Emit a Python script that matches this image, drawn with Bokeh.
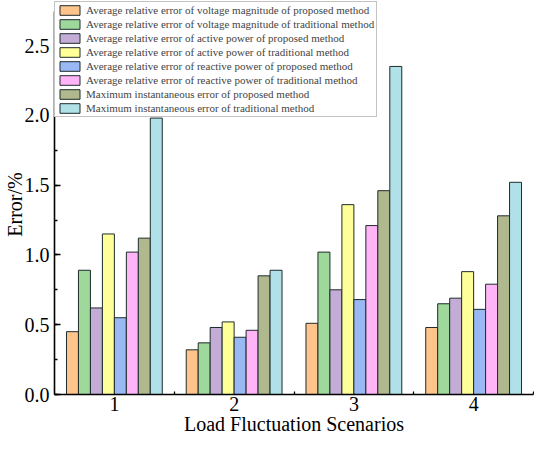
import math
from bokeh.plotting import figure
from bokeh.models import (ColumnDataSource, FixedTicker, SingleIntervalTicker, Range1d, Legend,
                          LegendItem, CustomJSTickFormatter, Label, LinearAxis)
from bokeh.transform import dodge
from bokeh.embed import file_html
from bokeh.resources import INLINE

scenarios = [1, 2, 3, 4]
vm_proposed = [0.45, 0.32, 0.51, 0.48]
vm_traditional = [0.89, 0.37, 1.02, 0.65]
p_proposed = [0.62, 0.48, 0.75, 0.69]
p_traditional = [1.15, 0.52, 1.36, 0.88]
q_proposed = [0.55, 0.41, 0.68, 0.61]
q_traditional = [1.02, 0.46, 1.21, 0.79]
max_proposed = [1.12, 0.85, 1.46, 1.28]
max_traditional = [1.98, 0.89, 2.35, 1.52]

labels = [
    "Average relative error of voltage magnitude of proposed method",
    "Average relative error of voltage magnitude of traditional method",
    "Average relative error of active power of proposed method",
    "Average relative error of active power of traditional method",
    "Average relative error of reactive power of proposed method",
    "Average relative error of reactive power of traditional method",
    "Maximum instantaneous error of proposed method",
    "Maximum instantaneous error of traditional method",
]
x_title = "Load Fluctuation Scenarios"
y_title = "Error/%"
colors = ["#FFC48C", "#9ED89A", "#C3ADD6", "#FFFF99", "#99B8F4", "#FFB4F8", "#B0B88E", "#B0E0E8"]
keys = ["vm_p", "vm_t", "p_p", "p_t", "q_p", "q_t", "m_p", "m_t"]
series = [vm_proposed, vm_traditional, p_proposed, p_traditional,
          q_proposed, q_traditional, max_proposed, max_traditional]

data = {"x": scenarios}
for k, s in zip(keys, series):
    data[k] = s
source = ColumnDataSource(data)

FONT = "Liberation Serif"
W, H = 534, 434
AX_LEFT_PX, AX_RIGHT_PX, AX_ZERO_PX = 54, 533, 394
PX_PER_Y = 139.6
PX_PER_X = (AX_RIGHT_PX - AX_LEFT_PX) / 4.0
x_start = 0.5 - AX_LEFT_PX / PX_PER_X
x_end = 4.5 + (W - AX_RIGHT_PX) / PX_PER_X
y_end = AX_ZERO_PX / PX_PER_Y
y_start = -(H - AX_ZERO_PX) / PX_PER_Y
Y_AXIS_TOP = 2.74

p = figure(width=W, height=H, output_backend="svg", toolbar_location=None,
           x_range=Range1d(x_start, x_end), y_range=Range1d(y_start, y_end),
           x_axis_location=None, y_axis_location=None,
           min_border_left=0, min_border_right=0, min_border_top=0, min_border_bottom=0)
p.xgrid.visible = False
p.ygrid.visible = False
p.outline_line_color = None

bw = 0.1
items = []
for i, (k, c, lab) in enumerate(zip(keys, colors, labels)):
    off = (i - 3.5) * bw
    r = p.vbar(x=dodge("x", off, range=p.x_range), top=k, width=bw, source=source,
               fill_color=c, line_color="#1e2b2b", line_width=1)
    items.append(LegendItem(label=lab, renderers=[r]))

legend = Legend(items=items, location=(AX_LEFT_PX, H - 117), margin=0, padding=2, spacing=2,
                glyph_width=25, glyph_height=12, label_height=12, label_standoff=4,
                label_text_font=FONT, label_text_font_size="11px",
                border_line_color="#888888", border_line_width=1,
                background_fill_alpha=1.0)
p.add_layout(legend, "center")

xaxis = LinearAxis(fixed_location=0, bounds=(0.5, 4.5),
                   ticker=FixedTicker(ticks=[1, 2, 3, 4], minor_ticks=[1.5, 2.5, 3.5, 4.5]))
yaxis = LinearAxis(fixed_location=0.5, bounds=(0, Y_AXIS_TOP),
                   ticker=SingleIntervalTicker(interval=0.5, num_minor_ticks=2),
                   formatter=CustomJSTickFormatter(code="return tick.toFixed(1);"))
p.add_layout(xaxis, "below")
p.add_layout(yaxis, "left")

for ax in (xaxis, yaxis):
    ax.axis_line_width = 1.6
    ax.axis_line_color = "black"
    ax.major_tick_line_color = "black"
    ax.minor_tick_line_color = "black"
    ax.major_tick_line_width = 1.3
    ax.minor_tick_line_width = 1.3
    ax.major_label_text_font = FONT
    ax.major_label_text_font_size = "20px"
    ax.major_label_text_color = "black"

xaxis.major_tick_in = 0
xaxis.major_tick_out = 0
xaxis.minor_tick_in = 3
xaxis.minor_tick_out = 0
xaxis.major_label_standoff = 2
yaxis.major_tick_in = 6
yaxis.major_tick_out = 0
yaxis.minor_tick_in = 3
yaxis.minor_tick_out = 0
yaxis.major_label_standoff = 5

xlab = Label(x=2.5, y=0, x_units="data", y_units="data", y_offset=-29,
             text=x_title, text_align="center", text_baseline="middle",
             text_font=FONT, text_font_size="20px", text_color="black")
ylab = Label(x=0.5, y=(AX_ZERO_PX - 204) / PX_PER_Y, x_units="data", y_units="data", x_offset=-40,
             text=y_title, text_align="center", text_baseline="middle", angle=math.pi / 2,
             text_font=FONT, text_font_size="20px", text_color="black")
p.add_layout(xlab)
p.add_layout(ylab)

open("out.html", "w").write(file_html(p, INLINE))
